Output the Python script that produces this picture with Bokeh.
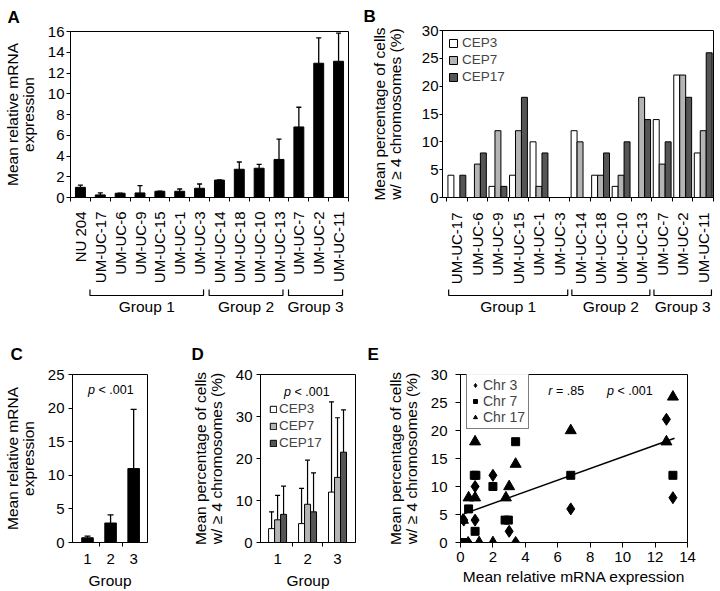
import numpy as np
from bokeh.plotting import figure
from bokeh.models import (Range1d, FixedTicker, Whisker, TeeHead, Label, Legend,
                          LegendItem, ColumnDataSource)
from bokeh.layouts import row, column
from bokeh.embed import file_html
from bokeh.resources import INLINE
from bokeh.core.properties import value

FONT = "Liberation Sans"
FS = "15px"
FS_TITLE = "15.5px"

# ---------------- data ----------------
a_cells = ["NU 204", "UM-UC-17", "UM-UC-6", "UM-UC-9", "UM-UC-15", "UM-UC-1", "UM-UC-3",
           "UM-UC-14", "UM-UC-18", "UM-UC-10", "UM-UC-13", "UM-UC-7", "UM-UC-2", "UM-UC-11"]
a_mrna = [0.98, 0.25, 0.41, 0.44, 0.6, 0.6, 0.89, 1.68, 2.72, 2.82, 3.67, 6.8, 12.94, 13.13]
a_err_top = [1.2, 0.44, 0.42, 1.14, 0.62, 0.82, 1.3, 1.69, 3.42, 3.2, 5.63, 8.7, 15.38, 15.85]
a_yticks = [0, 2, 4, 6, 8, 10, 12, 14, 16]
groups = ["Group 1", "Group 2", "Group 3"]
a_group_first = [1, 7, 11]
a_group_last = [6, 10, 13]

b_cells = ["UM-UC-17", "UM-UC-6", "UM-UC-9", "UM-UC-15", "UM-UC-1", "UM-UC-3",
           "UM-UC-14", "UM-UC-18", "UM-UC-10", "UM-UC-13", "UM-UC-7", "UM-UC-2", "UM-UC-11"]
b_cep3 = [4, 0, 2, 4, 10, 0, 12, 4, 2, 0, 14, 22, 8]
b_cep7 = [0, 6, 12, 12, 2, 0, 10, 4, 4, 18, 6, 22, 12]
b_cep17 = [4, 8, 2, 18, 8, 0, 0, 8, 10, 14, 10, 18, 26]
b_yticks = [0, 5, 10, 15, 20, 25, 30]
b_group_first = [0, 6, 10]
b_group_last = [5, 9, 12]

c_groups = [1, 2, 3]
c_labels = ["1", "2", "3"]
c_mrna = [0.7, 2.9, 11.0]
c_err_top = [0.95, 4.1, 19.8]
c_yticks = [0, 5, 10, 15, 20, 25]

d_cep3 = [3.3, 4.5, 12.0]
d_cep3_err = [7.3, 12.9, 33.5]
d_cep7 = [5.4, 9.1, 15.5]
d_cep7_err = [11.2, 19.6, 29.7]
d_cep17 = [6.7, 7.3, 21.5]
d_cep17_err = [13.4, 16.6, 31.6]
d_yticks = [0, 10, 20, 30, 40]

e_chr3_x = [0.2, 0.47, 0.9, 0.9, 2.0, 3.0, 3.4, 6.8, 12.7, 13.1]
e_chr3_y = [4, 0, 10, 4, 12, 2, 0, 6, 22, 8]
e_chr7_x = [0.1, 0.3, 0.5, 0.85, 0.95, 0.9, 2.0, 2.75, 2.95, 3.4, 6.8, 13.1]
e_chr7_y = [0, 0, 6, 12, 12, 2, 10, 4, 4, 18, 12, 12]
e_chr17_x = [0.15, 0.5, 0.9, 0.9, 1.15, 2.0, 2.8, 3.0, 3.4, 6.8, 12.7, 13.1]
e_chr17_y = [4, 8, 18, 8, 0, 0, 8, 10, 14, 20, 18, 26]
e_fit_slope = 1.04
e_fit_intercept = 4.9
e_fit_range = [0.2, 13.2]
e_xticks = [0, 2, 4, 6, 8, 10, 12, 14]
e_yticks = [0, 5, 10, 15, 20, 25, 30]

C_WHITE = "#ffffff"
C_GRAY = "#b4b4b4"
C_DARK = "#555555"


# ---------------- helpers ----------------
def make_fig(w, h, xr, yr, bl, br, bt, bb, axes=True):
    kw = {}
    if not axes:
        kw = dict(x_axis_location=None, y_axis_location=None)
    p = figure(width=w, height=h, x_range=xr, y_range=yr, output_backend="svg",
               toolbar_location=None, min_border_left=bl, min_border_right=br,
               min_border_top=bt, min_border_bottom=bb, **kw)
    p.grid.visible = False
    p.outline_line_color = "black" if axes else None
    p.outline_line_width = 1
    p.border_fill_color = "white"
    p.background_fill_color = "white"
    return p


def style_axes(p):
    for ax in p.axis:
        ax.axis_line_color = "black"
        ax.major_tick_line_color = "black"
        ax.major_tick_in = 0
        ax.major_tick_out = 4
        ax.minor_tick_line_color = None
        ax.major_label_text_font = FONT
        ax.major_label_text_font_size = FS
        ax.major_label_text_color = "black"
        ax.axis_label_text_font = FONT
        ax.axis_label_text_font_size = FS_TITLE
        ax.axis_label_text_font_style = "normal"
        ax.axis_label_text_color = "black"
        ax.axis_label_text_line_height = 0.95


def panel_letter(p, text, offset, standoff):
    p.title.text = text
    p.title.align = "left"
    p.title.offset = offset
    p.title.standoff = standoff
    p.title.text_font = FONT
    p.title.text_font_size = "17px"
    p.title.text_font_style = "bold"
    p.title.text_color = "black"


def frame_label(p, fh, fx, fy, text, size, style, align):
    # fx, fy: offsets from the frame's top-left corner
    p.add_layout(Label(x=fx, y=fh - fy, x_units="screen", y_units="screen",
                       text=text, text_font=FONT, text_font_size=size,
                       text_font_style=style, text_align=align, text_baseline="middle",
                       text_color="black"))


def pvalue(p, fh, fx, fy, sym, rest):
    frame_label(p, fh, fx, fy, sym, "12.5px", "italic", "right")
    frame_label(p, fh, fx + 3.5, fy, rest, "12.5px", "normal", "left")


def cat_xaxis(p, names, standoff):
    n = len(names)
    ax = p.xaxis[0]
    ax.ticker = FixedTicker(ticks=list(range(n)), minor_ticks=[i - 0.5 for i in range(n + 1)])
    ax.major_label_overrides = {i: c for i, c in enumerate(names)}
    ax.major_label_orientation = np.pi / 2
    ax.major_tick_out = 0
    ax.minor_tick_line_color = "black"
    ax.minor_tick_out = 4
    ax.minor_tick_in = 0
    ax.major_label_standoff = standoff


def group_xaxis(p, standoff):
    ax = p.xaxis[0]
    ax.ticker = FixedTicker(ticks=c_groups, minor_ticks=[1.5, 2.5])
    ax.major_label_overrides = {g: l for g, l in zip(c_groups, c_labels)}
    ax.major_tick_out = 0
    ax.minor_tick_line_color = "black"
    ax.minor_tick_out = 4
    ax.minor_tick_in = 0
    ax.major_label_standoff = standoff
    ax.axis_label = "Group"
    ax.axis_label_standoff = 5


def brackets(pb, first, last, lo, hi, h):
    for name, f, l in zip(groups, first, last):
        x0, x1 = f - lo, l + hi
        pb.line([x0, x0, x1, x1], [h - 1, h - 7, h - 7, h - 1], line_color="black",
                line_width=1.2)
        pb.text(x=[(x0 + x1) / 2], y=[h - 18], text=[name], text_font=value(FONT),
                text_font_size=FS_TITLE, text_align="center", text_baseline="middle",
                text_color="black")


# ---------------- panel A ----------------
AW, AH, Abl, Abr, Abt, Abb = 360, 288, 67, 12, 28, 91
Afh = AH - Abt - Abb
pA = make_fig(AW, AH, Range1d(-0.5, len(a_cells) - 0.5), Range1d(0, 16), Abl, Abr, Abt, Abb)
srcA = ColumnDataSource(dict(x=list(range(len(a_cells))), top=a_mrna, err=a_err_top))
pA.vbar(x="x", top="top", width=0.5, source=srcA, fill_color="black", line_color="black")
pA.add_layout(Whisker(source=srcA, base="x", lower="top", upper="err", line_color="black",
                      line_width=1.3, lower_head=None,
                      upper_head=TeeHead(size=5, line_color="black", line_width=1.3)))
style_axes(pA)
pA.yaxis.ticker = FixedTicker(ticks=a_yticks)
pA.yaxis.major_label_standoff = 2
pA.yaxis.axis_label = "Mean relative mRNA\nexpression"
pA.yaxis.axis_label_standoff = 8
cat_xaxis(pA, a_cells, 10)
panel_letter(pA, "A", -63, 10)

ABH = 34
pAb = make_fig(AW, ABH, pA.x_range, Range1d(0, ABH), Abl, Abr, 0, 0, axes=False)
brackets(pAb, a_group_first, a_group_last, 0.52, 0.2, ABH)

# ---------------- panel B ----------------
BW, BH, Bbl, Bbr, Bbt, Bbb = 360, 288, 82, 7, 27, 91
Bfh = BH - Bbt - Bbb
pB = make_fig(BW, BH, Range1d(-0.7, len(b_cells) - 0.5), Range1d(0, 30), Bbl, Bbr, Bbt, Bbb)
bx = np.arange(len(b_cells))
bw = 0.29
rb = []
for off, vals, col in zip([-bw, 0, bw], [b_cep3, b_cep7, b_cep17], [C_WHITE, C_GRAY, C_DARK]):
    rb.append(pB.vbar(x=list(bx + off), top=vals, width=bw, fill_color=col,
                      line_color="black", line_width=1))
style_axes(pB)
pB.yaxis.ticker = FixedTicker(ticks=b_yticks)
pB.yaxis.major_tick_out = 3
pB.yaxis.major_label_standoff = 1
pB.yaxis.axis_label = "Mean percentage of cells\nw/ \u2265 4 chromosomes (%)"
pB.yaxis.axis_label_standoff = 15
cat_xaxis(pB, b_cells, 11)
legB = Legend(items=[LegendItem(label=l, renderers=[r]) for l, r in
                     zip(["CEP3", "CEP7", "CEP17"], rb)],
              location=(6, Bfh - 57), padding=0, margin=0, spacing=2,
              glyph_width=10, glyph_height=10, label_height=15, label_standoff=4,
              border_line_color=None, background_fill_alpha=0,
              label_text_font=FONT, label_text_font_size="13.5px")
pB.add_layout(legB)
panel_letter(pB, "B", -79, 9)

pBb = make_fig(BW, ABH, pB.x_range, Range1d(0, ABH), Bbl, Bbr, 0, 0, axes=False)
brackets(pBb, b_group_first, b_group_last, 0.4, 0.4, ABH)

# ---------------- panel C ----------------
CW, CH, Cbl, Cbr, Cbt, Cbb = 185, 269, 67, 38, 51, 47
Cfh = CH - Cbt - Cbb
pC = make_fig(CW, CH, Range1d(0.35, 3.6), Range1d(0, 25), Cbl, Cbr, Cbt, Cbb)
srcC = ColumnDataSource(dict(x=c_groups, top=c_mrna, err=c_err_top))
pC.vbar(x="x", top="top", width=0.5, source=srcC, fill_color="black", line_color="black")
pC.add_layout(Whisker(source=srcC, base="x", lower="top", upper="err", line_color="black",
                      line_width=1.3, lower_head=None,
                      upper_head=TeeHead(size=6, line_color="black", line_width=1.3)))
style_axes(pC)
pC.yaxis.ticker = FixedTicker(ticks=c_yticks)
pC.yaxis.major_label_standoff = 4
pC.yaxis.axis_label = "Mean relative mRNA\nexpression"
pC.yaxis.axis_label_standoff = 8
group_xaxis(pC, 7)
panel_letter(pC, "C", -62, 22)
pvalue(pC, Cfh, 22.5, 18.7, "p", "< .001")

# ---------------- panel D ----------------
DW, DH, Dbl, Dbr, Dbt, Dbb = 175, 269, 75, 5, 51, 49
Dfh = DH - Dbt - Dbb
pD = make_fig(DW, DH, Range1d(0.43, 3.6), Range1d(0, 40), Dbl, Dbr, Dbt, Dbb)
dw = 0.2
rd = []
for off, vals, errs, col in zip([-dw, 0, dw], [d_cep3, d_cep7, d_cep17],
                                [d_cep3_err, d_cep7_err, d_cep17_err],
                                [C_WHITE, C_GRAY, C_DARK]):
    src = ColumnDataSource(dict(x=[g + off for g in c_groups], top=vals, err=errs))
    rd.append(pD.vbar(x="x", top="top", width=dw, source=src, fill_color=col,
                      line_color="black", line_width=1))
    pD.add_layout(Whisker(source=src, base="x", lower="top", upper="err", line_color="black",
                          line_width=1.2, lower_head=None,
                          upper_head=TeeHead(size=5, line_color="black", line_width=1.2)))
style_axes(pD)
pD.yaxis.ticker = FixedTicker(ticks=d_yticks)
pD.yaxis.major_label_standoff = 4
pD.yaxis.axis_label = "Mean percentage of cells\nw/ \u2265 4 chromosomes (%)"
pD.yaxis.axis_label_standoff = 8
group_xaxis(pD, 7)
legD = Legend(items=[LegendItem(label=l, renderers=[r]) for l, r in
                     zip(["CEP3", "CEP7", "CEP17"], rd)],
              location=(9, Dfh - 77), padding=0, margin=0, spacing=2,
              glyph_width=8, glyph_height=8, label_height=14, label_standoff=2,
              border_line_color=None, background_fill_alpha=0,
              label_text_font=FONT, label_text_font_size="13.5px")
pD.add_layout(legD)
panel_letter(pD, "D", -69, 22)
pvalue(pD, Dfh, 30.5, 18.7, "p", "< .001")

# ---------------- panel E ----------------
EW, EH, Ebl, Ebr, Ebt, Ebb = 360, 269, 100, 33, 52, 49
Efh = EH - Ebt - Ebb
pE = make_fig(EW, EH, Range1d(0, 14), Range1d(0, 30), Ebl, Ebr, Ebt, Ebb)
fx = np.array(e_fit_range)
pE.line(fx, e_fit_intercept + e_fit_slope * fx, line_color="black", line_width=1.5)
r3 = pE.scatter(e_chr3_x, e_chr3_y, marker="diamond", size=12, fill_color="black",
                line_color="black")
r7 = pE.scatter(e_chr7_x, e_chr7_y, marker="square", size=8, fill_color="black",
                line_color="black")
r17 = pE.scatter(e_chr17_x, e_chr17_y, marker="triangle", size=11, fill_color="black",
                 line_color="black")
style_axes(pE)
pE.yaxis.ticker = FixedTicker(ticks=e_yticks)
pE.yaxis.major_tick_out = 5
pE.yaxis.major_label_standoff = 8
pE.yaxis.axis_label = "Mean percentage of cells\nw/ \u2265 4 chromosomes (%)"
pE.yaxis.axis_label_standoff = 8
pE.xaxis.ticker = FixedTicker(ticks=e_xticks)
pE.xaxis.major_tick_out = 5
pE.xaxis.major_label_standoff = 4
pE.xaxis.axis_label = "Mean relative mRNA expression"
pE.xaxis.axis_label_standoff = 3
legE = Legend(items=[LegendItem(label=l, renderers=[r]) for l, r in
                     zip(["Chr 3", "Chr 7", "Chr 17"], [r3, r7, r17])],
              location=(6, Efh - 55), padding=3, margin=0, spacing=0,
              glyph_width=10, glyph_height=12, label_height=15, label_standoff=3,
              border_line_color="black", border_line_width=1, background_fill_color="white",
              label_text_font=FONT, label_text_font_size="14px")
pE.add_layout(legE)
panel_letter(pE, "E", -93, 22)
pvalue(pE, Efh, 92, 16, "r", "= .85")
pvalue(pE, Efh, 153.5, 16, "p", "< .001")

layout = column(row(column(pA, pAb), column(pB, pBb)), row(pC, pD, pE))
open("out.html", "w").write(file_html(layout, INLINE))
